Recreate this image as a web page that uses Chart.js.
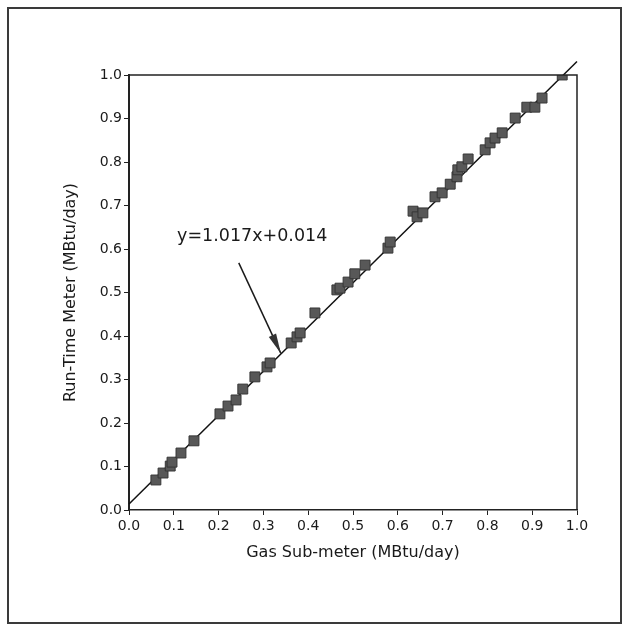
<!DOCTYPE html>
<html><head><meta charset="utf-8">
<script src="https://cdn.jsdelivr.net/npm/chart.js@4.4.1/dist/chart.umd.min.js"></script>
<style>html,body{margin:0;padding:0;background:#fff;}#wrap{width:628px;height:631px;}</style>
</head><body><div id="wrap"><canvas id="c" width="628" height="631"></canvas></div>
<script>
// Data
const gasSubMeter = [0.060,0.076,0.092,0.096,0.116,0.145,0.203,0.221,0.239,0.254,0.281,0.308,0.315,0.362,0.375,0.382,0.415,0.464,0.471,0.489,0.504,0.527,0.578,0.583,0.634,0.643,0.656,0.683,0.699,0.717,0.732,0.734,0.743,0.757,0.795,0.806,0.817,0.833,0.862,0.888,0.906,0.922,0.967];
const runTimeMeter = [0.069,0.085,0.101,0.110,0.131,0.159,0.221,0.239,0.253,0.278,0.306,0.329,0.338,0.384,0.398,0.407,0.453,0.506,0.510,0.524,0.543,0.563,0.602,0.616,0.687,0.674,0.683,0.720,0.729,0.749,0.766,0.782,0.789,0.807,0.828,0.844,0.855,0.867,0.901,0.926,0.926,0.947,1.000];
const tickValues = [0.0,0.1,0.2,0.3,0.4,0.5,0.6,0.7,0.8,0.9,1.0];
const fitX = [0.0, 1.0];
const fitY = [0.014, 1.031];
const equationLabel = 'y=1.017x+0.014';
const labelAt = [0.275, 0.628];
const arrowFrom = [0.245, 0.568];
const arrowTo = [0.339, 0.360];
const xTitle = 'Gas Sub-meter (MBtu/day)';
const yTitle = 'Run-Time Meter (MBtu/day)';

const FONT = 'DejaVu Sans';
const INK = '#1a1a1a';

const decor = {
  id: 'decor',
  beforeDraw(chart) {
    const ctx = chart.ctx;
    ctx.save();
    ctx.fillStyle = '#fff';
    ctx.fillRect(0, 0, chart.width, chart.height);
    ctx.restore();
  },
  afterDraw(chart) {
    const ctx = chart.ctx;
    const a = chart.chartArea;
    const xs = chart.scales.x, ys = chart.scales.y;
    ctx.save();
    // top and right edges of plot box
    ctx.strokeStyle = '#222';
    ctx.lineWidth = 1.5;
    ctx.beginPath();
    ctx.moveTo(a.left, a.top); ctx.lineTo(a.right, a.top); ctx.lineTo(a.right, a.bottom);
    ctx.stroke();
    // outer frame
    ctx.strokeStyle = '#3a3a3a';
    ctx.lineWidth = 2;
    ctx.strokeRect(8, 8, 613, 615);
    // equation label
    ctx.fillStyle = INK;
    ctx.font = '17.5px "' + FONT + '"';
    ctx.textAlign = 'center';
    ctx.textBaseline = 'middle';
    ctx.fillText(equationLabel, xs.getPixelForValue(labelAt[0]), ys.getPixelForValue(labelAt[1]));
    // arrow
    const x1 = xs.getPixelForValue(arrowFrom[0]), y1 = ys.getPixelForValue(arrowFrom[1]);
    const x2 = xs.getPixelForValue(arrowTo[0]), y2 = ys.getPixelForValue(arrowTo[1]);
    ctx.strokeStyle = INK;
    ctx.lineWidth = 1.5;
    ctx.beginPath(); ctx.moveTo(x1, y1); ctx.lineTo(x2, y2); ctx.stroke();
    const ang = Math.atan2(y2 - y1, x2 - x1);
    const L = 20, W = 4;
    ctx.fillStyle = '#333';
    ctx.beginPath();
    ctx.moveTo(x2, y2);
    ctx.lineTo(x2 - L * Math.cos(ang) + W * Math.sin(ang), y2 - L * Math.sin(ang) - W * Math.cos(ang));
    ctx.lineTo(x2 - L * Math.cos(ang) - W * Math.sin(ang), y2 - L * Math.sin(ang) + W * Math.cos(ang));
    ctx.closePath(); ctx.fill();
    ctx.restore();
  }
};

const fmt = v => Number(v).toFixed(1);
const setTicks = s => { s.ticks = tickValues.map(v => ({ value: v })); };

new Chart(document.getElementById('c'), {
  type: 'scatter',
  data: {
    datasets: [
      {
        label: 'Measured',
        data: gasSubMeter.map((x, i) => ({ x: x, y: runTimeMeter[i] })),
        pointStyle: 'rect',
        pointRadius: 7,
        backgroundColor: '#585858',
        borderColor: '#363636',
        borderWidth: 1,
        order: 0
      },
      {
        label: 'Fit',
        data: fitX.map((x, i) => ({ x: x, y: fitY[i] })),
        showLine: true,
        borderColor: '#111',
        borderWidth: 1.5,
        pointRadius: 0,
        clip: false,
        order: 1
      }
    ]
  },
  options: {
    responsive: false,
    animation: false,
    devicePixelRatio: 1,
    layout: { padding: { left: 50, top: 75, right: 51, bottom: 67 } },
    plugins: { legend: { display: false }, tooltip: { enabled: false } },
    scales: {
      x: {
        type: 'linear', min: 0, max: 1,
        afterBuildTicks: setTicks,
        afterFit: s => { s.height = 54; },
        ticks: { callback: fmt, color: INK, font: { family: FONT, size: 14 }, padding: 3, maxRotation: 0, autoSkip: false },
        grid: { drawOnChartArea: false, drawTicks: true, tickLength: 5, color: '#222', lineWidth: 1 },
        border: { color: '#222', width: 1.5 },
        title: { display: true, text: xTitle, color: INK, font: { family: FONT, size: 16 }, padding: { top: 0, bottom: 2 } }
      },
      y: {
        type: 'linear', min: 0, max: 1,
        afterBuildTicks: setTicks,
        afterFit: s => { s.width = 79; },
        ticks: { callback: fmt, color: INK, font: { family: FONT, size: 14 }, padding: 2, autoSkip: false },
        grid: { drawOnChartArea: false, drawTicks: true, tickLength: 5, color: '#222', lineWidth: 1 },
        border: { color: '#222', width: 2 },
        title: { display: true, text: yTitle, color: INK, font: { family: FONT, size: 16 }, padding: { top: 11, bottom: 0 } }
      }
    }
  },
  plugins: [decor]
});
</script>
</body></html>
